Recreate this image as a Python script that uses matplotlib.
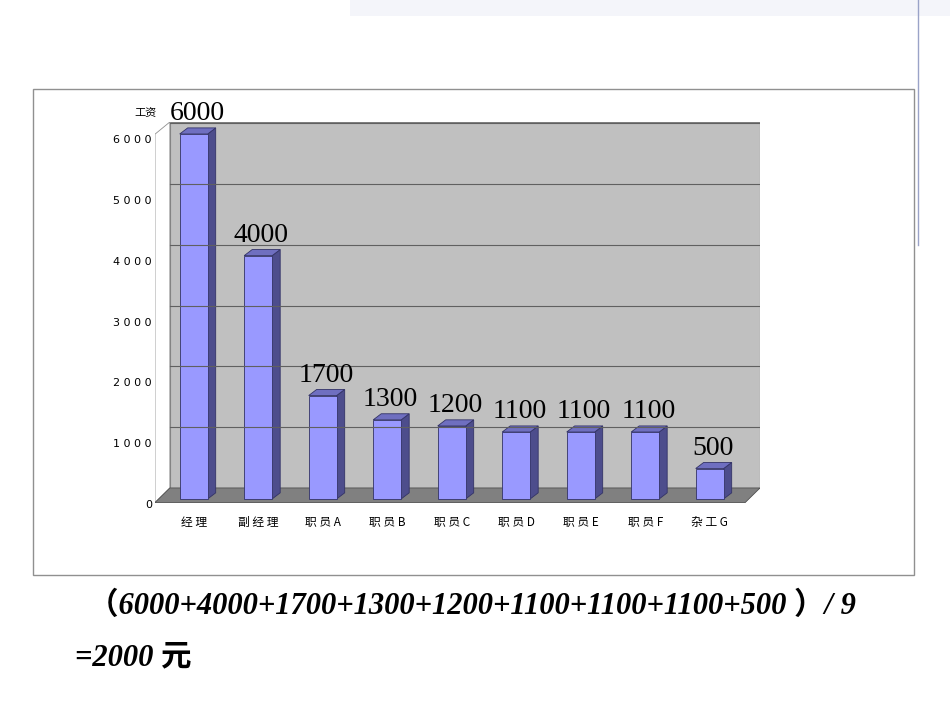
import matplotlib.pyplot as plt
from matplotlib.patches import Polygon, Rectangle

plt.rcParams['font.family'] = ['Noto Sans CJK SC', 'DejaVu Sans']

categories = ['经理', '副经理', '职员A', '职员B', '职员C', '职员D', '职员E', '职员F', '杂工G']
salaries = [6000, 4000, 1700, 1300, 1200, 1100, 1100, 1100, 500]
yticks = [0, 1000, 2000, 3000, 4000, 5000, 6000]

W, H = 950, 713
fig = plt.figure(figsize=(9.5, 7.13), dpi=100)

# decoration layer in pixel coords
deco = fig.add_axes([0, 0, 1, 1])
deco.set_xlim(0, W)
deco.set_ylim(H, 0)
deco.axis('off')
deco.add_patch(Rectangle((350, 0), 600, 16, facecolor='#f4f5fa', edgecolor='none'))
deco.plot([918, 918], [0, 245], color='#9aa3c8', lw=1)
deco.add_patch(Rectangle((33, 89), 881, 486, facecolor='white', edgecolor='#909090', lw=1))

# chart axes (pixel box 155..760 x 122..505)
ax = fig.add_axes([155 / W, 1 - 505 / H, 605 / W, 383 / H])
ax.set_xlim(-0.6, 8.78)
ax.set_ylim(-100, 6197)
ax.axis('off')

bx, by = 0.23, 280       # back wall offset
wall_l, wall_r = -0.6 + bx, 8.78
ax.add_patch(Polygon([(wall_l, by - 100), (wall_r, by - 100), (wall_r, 6197), (wall_l, 6197)],
                     closed=True, facecolor='#c0c0c0', edgecolor='#808080', lw=0.8))
for v in yticks[1:]:
    ax.plot([wall_l, wall_r], [by - 100 + v, by - 100 + v], color='#606060', lw=0.8)
# left side wall
ax.add_patch(Polygon([(-0.6, -100 + 40), (wall_l, by - 100), (wall_l, 6197), (-0.6, 6197 - 200)],
                     closed=True, facecolor='white', edgecolor='#909090', lw=0.6))
# floor
ax.add_patch(Polygon([(-0.6, -60), (8.78 - bx, -60), (wall_r, by - 100), (wall_l, by - 100)],
                     closed=True, facecolor='#808080', edgecolor='#505050', lw=0.6))

bw, dx, dy = 0.434, 0.124, 100
for i, v in enumerate(salaries):
    x0, x1 = i - bw / 2, i + bw / 2
    ax.add_patch(Polygon([(x1, 0), (x1 + dx, dy), (x1 + dx, v + dy), (x1, v)],
                         closed=True, facecolor='#4d4d8c', edgecolor='#333366', lw=0.6))
    ax.add_patch(Polygon([(x0, v), (x1, v), (x1 + dx, v + dy), (x0 + dx, v + dy)],
                         closed=True, facecolor='#6f6fc0', edgecolor='#333366', lw=0.6))
    ax.add_patch(Rectangle((x0, 0), bw, v, facecolor='#9999ff', edgecolor='#333366', lw=0.6))
    ax.text(i + 0.05, v + 130, str(v), ha='center', va='bottom',
            fontsize=20, family='Liberation Serif')
    ax.text(i, -280, ' '.join(categories[i]),
            ha='center', va='top', fontsize=8.5, clip_on=False)

for v in yticks:
    ax.text(-0.65, v - 100, ' '.join(str(v)), ha='right', va='center', fontsize=8,
            family='DejaVu Sans', clip_on=False)
ax.text(-0.75, 6330, '工资', ha='center', va='center', fontsize=8, clip_on=False)

tf = ['Liberation Serif', 'Noto Sans CJK SC']
deco.text(88, 606, '（6000+4000+1700+1300+1200+1100+1100+1100+500 ）/ 9',
          fontsize=22, fontweight='bold', fontstyle='italic', family=tf, va='center')
deco.text(75, 658, '=2000 元', fontsize=22, fontweight='bold', fontstyle='italic',
          family=tf, va='center')

fig.savefig('out.png', dpi=100)
